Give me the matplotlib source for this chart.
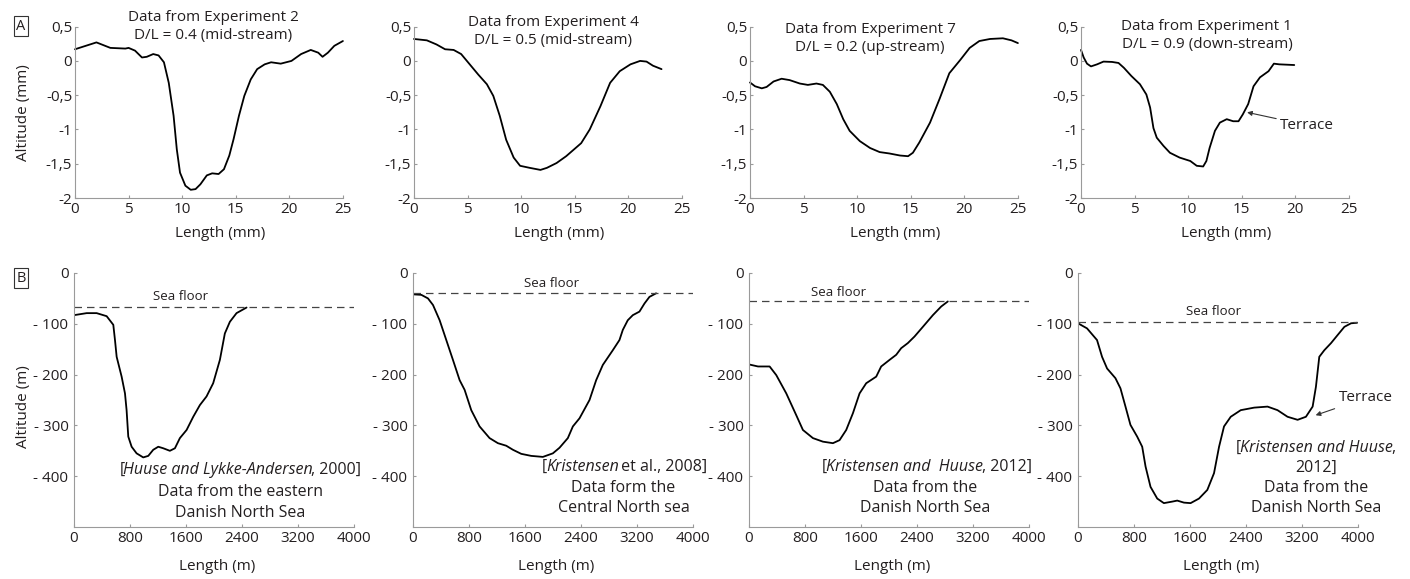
import matplotlib
matplotlib.use("Agg")
import matplotlib.pyplot as plt
from matplotlib.offsetbox import TextArea, HPacker, AnnotationBbox

plt.rcParams['font.family'] = ['Open Sans', 'DejaVu Sans']

# ---------------- Data (row A: experiments, mm) ----------------
exp2_x = [0, 2.0, 3.3, 4.7, 5.0, 5.6, 6.25, 6.7, 7.3, 7.8, 8.3, 8.75, 9.2, 9.5, 9.8, 10.3, 10.8, 11.25,
          11.7, 12.3, 12.8, 13.4, 13.9, 14.4, 14.8, 15.3, 15.8, 16.4, 17.0, 17.7, 18.3, 19.2, 20.2,
          21.1, 22.0, 22.7, 23.1, 23.6, 24.2, 25.0]
exp2_y = [0.17, 0.27, 0.19, 0.18, 0.19, 0.15, 0.05, 0.06, 0.10, 0.08, -0.02, -0.32, -0.80, -1.29, -1.63,
          -1.82, -1.88, -1.87, -1.80, -1.67, -1.64, -1.65, -1.58, -1.38, -1.14, -0.80, -0.51, -0.27,
          -0.12, -0.05, -0.02, -0.04, 0.0, 0.10, 0.16, 0.12, 0.06, 0.12, 0.22, 0.29]

exp4_x = [0, 1.2, 2.1, 2.9, 3.7, 4.4, 5.2, 6.0, 6.8, 7.4, 8.0, 8.6, 9.3, 9.9, 10.8, 11.8, 12.4, 13.3,
          14.2, 15.6, 16.4, 17.4, 18.3, 19.2, 20.2, 21.1, 21.7, 22.3, 23.1]
exp4_y = [0.32, 0.30, 0.24, 0.17, 0.16, 0.10, -0.05, -0.20, -0.34, -0.51, -0.80, -1.15, -1.41, -1.53,
          -1.56, -1.59, -1.56, -1.49, -1.39, -1.20, -1.00, -0.66, -0.32, -0.15, -0.05, 0.0, -0.01,
          -0.07, -0.12]

exp7_x = [0, 0.47, 1.1, 1.55, 2.2, 2.95, 3.7, 4.65, 5.4, 6.2, 6.8, 7.45, 8.1, 8.7, 9.3, 10.25, 11.2,
          12.1, 13.0, 14.0, 14.75, 15.2, 15.8, 16.8, 17.7, 18.6, 19.6, 20.5, 21.4, 22.4, 23.6, 24.4, 25.0]
exp7_y = [-0.315, -0.37, -0.40, -0.38, -0.30, -0.26, -0.28, -0.33, -0.35, -0.33, -0.35, -0.45, -0.63,
          -0.85, -1.02, -1.17, -1.27, -1.33, -1.35, -1.38, -1.39, -1.34, -1.19, -0.90, -0.55, -0.18,
          0.01, 0.19, 0.29, 0.32, 0.33, 0.30, 0.26]

exp1_x = [0, 0.25, 0.56, 0.93, 1.5, 2.1, 2.9, 3.5, 4.0, 4.7, 5.5, 6.1, 6.45, 6.76, 7.07, 7.7, 8.3, 9.2,
          10.2, 10.8, 11.4, 11.7, 12.0, 12.5, 12.96, 13.6, 14.2, 14.7, 15.1, 15.6, 16.1, 16.7, 17.5,
          18.0, 18.5, 19.9]
exp1_y = [0.16, 0.05, -0.04, -0.08, -0.05, -0.01, -0.015, -0.03, -0.10, -0.22, -0.34, -0.49, -0.68,
          -0.98, -1.12, -1.24, -1.34, -1.41, -1.46, -1.53, -1.54, -1.46, -1.27, -1.02, -0.90, -0.85,
          -0.88, -0.88, -0.78, -0.63, -0.37, -0.24, -0.15, -0.04, -0.05, -0.06]

# ---------------- Data (row B: field data, m) ----------------
huuse_x = [0, 181, 324, 467, 562, 586, 610, 681, 729, 752, 776, 824, 895, 990, 1062, 1133, 1205, 1276,
           1371, 1443, 1514, 1610, 1705, 1800, 1895, 1990, 2086, 2157, 2229, 2324, 2467]
huuse_y = [-83, -79, -79, -85, -102, -132, -165, -204, -237, -270, -322, -342, -355, -363, -360, -348,
           -342, -345, -350, -345, -325, -309, -283, -260, -243, -217, -171, -119, -96, -79, -68]

krist08_x = [0, 119, 214, 286, 381, 476, 571, 667, 738, 833, 952, 1095, 1214, 1333, 1429, 1548, 1690,
             1857, 2000, 2095, 2214, 2286, 2381, 2524, 2619, 2714, 2857, 2952, 3000, 3071, 3143, 3238,
             3310, 3381, 3476]
krist08_y = [-42, -43, -50, -63, -93, -132, -171, -211, -230, -270, -302, -325, -335, -340, -348, -356,
             -360, -362, -355, -344, -325, -302, -286, -250, -211, -181, -152, -132, -112, -93, -83,
             -76, -60, -47, -40]

krist12a_x = [0, 129, 295, 390, 533, 676, 771, 914, 1057, 1200, 1295, 1390, 1486, 1581, 1676, 1819,
              1890, 2010, 2105, 2176, 2271, 2367, 2486, 2629, 2748, 2843]
krist12a_y = [-180, -184, -184, -201, -237, -280, -309, -325, -332, -335, -329, -309, -276, -237, -217,
              -204, -184, -171, -161, -148, -138, -125, -106, -83, -66, -56]

krist12b_x = [0, 129, 272, 344, 416, 535, 607, 679, 750, 846, 918, 966, 1037, 1133, 1228, 1348, 1419,
              1515, 1610, 1730, 1849, 1945, 2017, 2088, 2184, 2327, 2519, 2710, 2853, 2996, 3140, 3259,
              3355, 3402, 3450, 3522, 3618, 3713, 3809, 3904, 3990]
krist12b_y = [-99, -109, -132, -165, -188, -207, -227, -263, -299, -322, -342, -381, -421, -444, -453,
              -450, -448, -452, -453, -444, -427, -394, -342, -302, -283, -270, -265, -263, -270, -283,
              -289, -283, -263, -224, -165, -152, -138, -122, -106, -99, -98]

sea_floor = [-66, -40, -56, -96]

top_titles = ["Data from Experiment 2\nD/L = 0.4 (mid-stream)",
              "Data from Experiment 4\nD/L = 0.5 (mid-stream)",
              "Data from Experiment 7\nD/L = 0.2 (up-stream)",
              "Data from Experiment 1\nD/L = 0.9 (down-stream)"]
top_xticks = [0, 5, 10, 15, 20, 25]
top_yticks = [0.5, 0, -0.5, -1, -1.5, -2]
top_yticklabels = ["0,5", "0", "-0,5", "-1", "-1,5", "-2"]
bot_xticks = [0, 800, 1600, 2400, 3200, 4000]
bot_yticks = [0, -100, -200, -300, -400]
bot_yticklabels = ["0", "- 100", "- 200", "- 300", "- 400"]

# ---------------- Figure ----------------
TXT = '#231f20'
SPINE = '#9a9a9a'
TICK_FS = 11
fig = plt.figure(figsize=(14.1, 5.79), dpi=100)

top_lefts = [75 / 1410, 414 / 1410, 750 / 1410, 1081 / 1410]
bot_lefts = [74 / 1410, 413 / 1410, 749 / 1410, 1078 / 1410]


def style(ax, xpad, ypad):
    for s in ['top', 'right']:
        ax.spines[s].set_visible(False)
    for s in ['left', 'bottom']:
        ax.spines[s].set_color(SPINE)
        ax.spines[s].set_linewidth(0.8)
    ax.tick_params(axis='both', direction='in', length=2.5, width=0.8, color=SPINE,
                   labelsize=TICK_FS, labelcolor=TXT)
    ax.tick_params(axis='x', pad=xpad)
    ax.tick_params(axis='y', pad=ypad)
    ax.patch.set_alpha(0)


LINE_KW = dict(color='black', lw=1.3, solid_joinstyle='round', solid_capstyle='round')

top_data = [(exp2_x, exp2_y), (exp4_x, exp4_y), (exp7_x, exp7_y), (exp1_x, exp1_y)]
title_pos = [(0.517, 1.0), (0.52, 0.972), (0.448, 0.93), (0.47, 0.947)]
for i in range(4):
    ax = fig.add_axes([top_lefts[i], 0.658, 0.19, 0.296])
    x, y = top_data[i]
    ax.plot(x, y, clip_on=False, **LINE_KW)
    ax.set_xlim(0, 25)
    ax.set_ylim(-2, 0.5)
    ax.set_xticks(top_xticks)
    ax.set_yticks(top_yticks)
    ax.set_yticklabels(top_yticklabels)
    style(ax, 3.0, 2)
    ax.text(0.54, -0.205, "Length (mm)", transform=ax.transAxes, ha='center', va='center',
            fontsize=11, color=TXT)
    tx, ty = title_pos[i]
    ax.text(tx, ty, top_titles[i], transform=ax.transAxes, ha='center', va='center',
            fontsize=11, color=TXT, linespacing=1.25)
    if i == 3:
        ax.annotate("Terrace", xy=(15.5, -0.75), xytext=(18.6, -0.94), ha='left', va='center',
                    fontsize=11, color=TXT,
                    arrowprops=dict(arrowstyle='-|>', color='#333333', lw=0.8,
                                    mutation_scale=7, shrinkA=1, shrinkB=0))

bot_data = [(huuse_x, huuse_y), (krist08_x, krist08_y), (krist12a_x, krist12a_y),
            (krist12b_x, krist12b_y)]
seafloor_text = [(1520, -47), (1986, -20), (1286, -39), (1935, -76)]

# reference annotations: list of (x, y, parts) where parts is [(text, italic), ...]
refs = [
    [(2380, -388, [("[", False), ("Huuse and Lykke-Andersen", True), (", 2000]", False)]),
     (2380, -431, [("Data from the eastern", False)]),
     (2380, -472, [("Danish North Sea", False)])],
    [(3029, -382, [("[", False), ("Kristensen", True), (" et al., 2008]", False)]),
     (3010, -423, [("Data form the", False)]),
     (3010, -463, [("Central North sea", False)])],
    [(2543, -382, [("[", False), ("Kristensen and  Huuse", True), (", 2012]", False)]),
     (2520, -423, [("Data from the", False)]),
     (2520, -463, [("Danish North Sea", False)])],
    [(3398, -344, [("[", False), ("Kristensen and Huuse", True), (",", False)]),
     (3398, -384, [("2012]", False)]),
     (3398, -423, [("Data from the", False)]),
     (3398, -463, [("Danish North Sea", False)])],
]
REF_FS = 11.5

for i in range(4):
    ax = fig.add_axes([bot_lefts[i], 0.0898, 0.1984, 0.4387])
    x, y = bot_data[i]
    ax.plot(x, y, **LINE_KW)
    ax.axhline(sea_floor[i], color='#444444', lw=0.9, ls=(0, (6, 4)))
    ax.set_xlim(0, 4000)
    ax.set_ylim(-500, 0)
    ax.set_xticks(bot_xticks)
    ax.set_yticks(bot_yticks)
    ax.set_yticklabels(bot_yticklabels)
    style(ax, 3.0, 4)
    ax.text(0.51, -0.157, "Length (m)", transform=ax.transAxes, ha='center', va='center',
            fontsize=11, color=TXT)
    sx, sy = seafloor_text[i]
    ax.text(sx, sy, "Sea floor", ha='center', va='center', fontsize=9.5, color=TXT)
    for (rx, ry, parts) in refs[i]:
        if len(parts) == 1:
            ax.text(rx, ry, parts[0][0], ha='center', va='center', fontsize=REF_FS, color=TXT)
        else:
            children = [TextArea(t, textprops=dict(fontsize=REF_FS, color=TXT,
                                                   fontstyle='italic' if it else 'normal'))
                        for t, it in parts]
            box = HPacker(children=children, pad=0, sep=-1, align='baseline')
            ab = AnnotationBbox(box, (rx, ry), xycoords='data', frameon=False,
                                box_alignment=(0.5, 0.5), pad=0)
            ax.add_artist(ab)
    if i == 3:
        ax.annotate("Terrace", xy=(3398, -280), xytext=(3728, -246), ha='left', va='center',
                    fontsize=11, color=TXT,
                    arrowprops=dict(arrowstyle='-|>', color='#333333', lw=0.8,
                                    mutation_scale=7, shrinkA=1, shrinkB=0))

fig.text(0.0170, 1 - 113 / 579, "Altitude (mm)", rotation=90, ha='center', va='center',
         fontsize=11, color=TXT)
fig.text(0.0170, 1 - 407 / 579, "Altitude (m)", rotation=90, ha='center', va='center',
         fontsize=11, color=TXT)

for lab, yy in [("A", 26), ("B", 278)]:
    fig.text(21 / 1410, 1 - yy / 579, lab, ha='center', va='center', fontsize=10.5, color=TXT,
             bbox=dict(boxstyle='square,pad=0.15', fc='white', ec='#333333', lw=0.8))

fig.savefig("out.png", dpi=100)
